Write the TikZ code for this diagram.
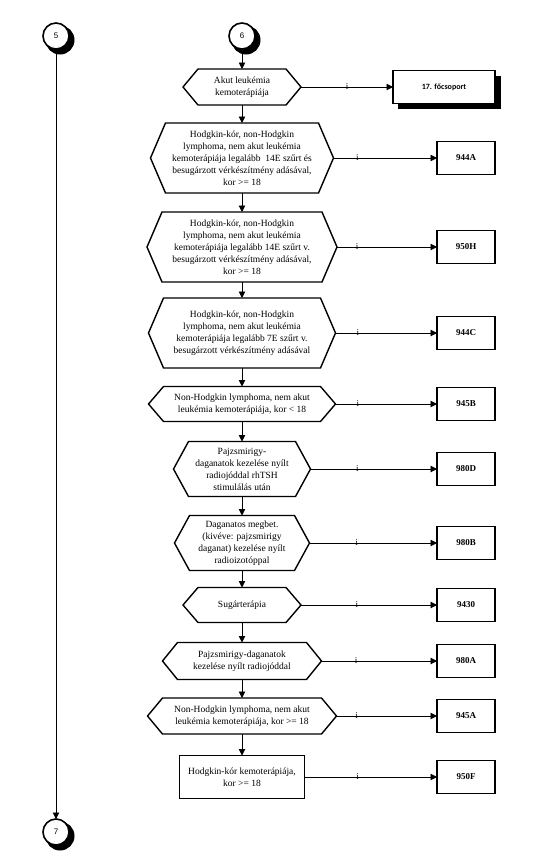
\documentclass[tikz,border=0pt]{standalone}
\usepackage{fontspec}
\setmainfont{Liberation Serif}
\setsansfont{Liberation Sans}
\newfontfamily\carlito{Carlito}
\usepackage{tikz}
\usetikzlibrary{arrows.meta}

\begin{document}
\begin{tikzpicture}[x=1pt, y=-1pt]
\tikzstyle{choice} = [rectangle, inner sep=0pt, outer sep=0pt, align=center, font=\fontsize{9.5}{12}\selectfont]
\tikzstyle{frame} = [line width=1.4pt, line join=miter]
\tikzstyle{plain} = [choice, draw, line width=1.4pt]
\tikzstyle{code} = [rectangle, draw, fill=white, line width=1.4pt, minimum width=58pt, minimum height=33pt, inner sep=0pt, outer sep=0pt, font=\fontsize{9}{11}\selectfont\bfseries]
\tikzstyle{connector} = [circle, draw, fill=white, line width=1.6pt, minimum size=26pt, inner sep=0pt, outer sep=0pt, font=\sffamily\fontsize{8}{10}\selectfont]
\tikzstyle{dropshadow} = [fill=black, draw=black, line width=1pt]
\tikzstyle{arrow} = [line width=0.9pt, -{Triangle[length=6.5pt, width=6.5pt]}]
\tikzstyle{igen} = [font=\fontsize{9}{9}\selectfont, inner sep=0pt]

\useasboundingbox (0,0) rectangle (534,868);

% shadows first, so they sit behind
\path[dropshadow] (60,40) circle [radius=14];
\path[dropshadow] (246,40) circle [radius=14];
\path[dropshadow] (60,836) circle [radius=14];
\path[dropshadow] (398,76) rectangle (500,108);

% off-page connectors
\node (c5) [connector] at (56,36) {5};
\node (c6) [connector] at (242,36) {6};
\node (c7) [connector] at (56,832) {7};

% decisions
\node (h0) [choice, minimum width=118pt, minimum height=36pt] at (242,87) {Akut leukémia\\kemoterápiája};
\node (h1) [choice, minimum width=183pt, minimum height=70pt] at (242,158) {Hodgkin-kór, non-Hodgkin\\lymphoma, nem akut leukémia\\kemoterápiája legalább\ \ 14E szűrt és\\besugárzott vérkészítmény adásával,\\kor >= 18};
\node (h2) [choice, minimum width=190pt, minimum height=70pt] at (242,247) {Hodgkin-kór, non-Hodgkin\\lymphoma, nem akut leukémia\\kemoterápiája legalább 14E szűrt v.\\besugárzott vérkészítmény adásával,\\kor >= 18};
\node (h3) [choice, minimum width=187pt, minimum height=70pt] at (242,333) {Hodgkin-kór, non-Hodgkin\\lymphoma, nem akut leukémia\\kemoterápiája legalább 7E szűrt v.\\besugárzott vérkészítmény adásával};
\node (h4) [choice, minimum width=187pt, minimum height=35pt] at (242,404) {Non-Hodgkin lymphoma, nem akut\\leukémia kemoterápiája, kor < 18};
\node (h5) [choice, minimum width=137pt, minimum height=55pt] at (242,469) {Pajzsmirigy-\\daganatok kezelése nyílt\\radiojóddal rhTSH\\stimulálás után};
\node (h6) [choice, minimum width=135pt, minimum height=55pt] at (242,543) {Daganatos megbet.\\(kivéve: pajzsmirigy\\daganat) kezelése nyílt\\radioizotóppal};
\node (h7) [choice, minimum width=118pt, minimum height=35pt] at (242,605) {Sugárterápia};
\node (h8) [choice, minimum width=159pt, minimum height=37pt] at (242,661) {Pajzsmirigy-daganatok\\kezelése nyílt radiojóddal};
\node (h9) [choice, minimum width=189pt, minimum height=36pt] at (242,716) {Non-Hodgkin lymphoma, nem akut\\leukémia kemoterápiája, kor >= 18};
\node (r10) [plain, minimum width=125pt, minimum height=43pt] at (242,777) {Hodgkin-kór kemoterápiája,\\kor >= 18};

\foreach \n in {h0,h1,h2,h3,h4,h5,h6,h7,h8,h9}
  \draw[frame] (\n.west) -- ([xshift=15pt]\n.north west) -- ([xshift=-15pt]\n.north east) -- (\n.east) -- ([xshift=-15pt]\n.south east) -- ([xshift=15pt]\n.south west) -- cycle;

% results
\node (g17) [code, minimum width=102pt, font=\carlito\fontsize{8}{10}\selectfont\bfseries] at (444,87) {17. főcsoport};
\node (b1) [code] at (466,158) {944A};
\node (b2) [code] at (466,247) {950H};
\node (b3) [code] at (466,333) {944C};
\node (b4) [code] at (466,404) {945B};
\node (b5) [code] at (466,469) {980D};
\node (b6) [code] at (466,543) {980B};
\node (b7) [code] at (466,605) {9430};
\node (b8) [code] at (466,661) {980A};
\node (b9) [code] at (466,716) {945A};
\node (b10) [code] at (466,777) {950F};

\draw [arrow] (c5) -- (c7);
\draw [arrow] (c6) -- (h0);
\draw [arrow] (h0) -- (h1);
\draw [arrow] (h1) -- (h2);
\draw [arrow] (h2) -- (h3);
\draw [arrow] (h3) -- (h4);
\draw [arrow] (h4) -- (h5);
\draw [arrow] (h5) -- (h6);
\draw [arrow] (h6) -- (h7);
\draw [arrow] (h7) -- (h8);
\draw [arrow] (h8) -- (h9);
\draw [arrow] (h9) -- (r10);

\draw [arrow] (h0) -- node[igen, pos=0.5] {i} (g17);
\draw [arrow] (h1) -- node[igen, pos=0.23] {i} (b1);
\draw [arrow] (h2) -- node[igen, pos=0.2] {i} (b2);
\draw [arrow] (h3) -- node[igen, pos=0.22] {i} (b3);
\draw [arrow] (h4) -- node[igen, pos=0.22] {i} (b4);
\draw [arrow] (h5) -- node[igen, pos=0.37] {i} (b5);
\draw [arrow] (h6) -- node[igen, pos=0.37] {i} (b6);
\draw [arrow] (h7) -- node[igen, pos=0.41] {i} (b7);
\draw [arrow] (h8) -- node[igen, pos=0.3] {i} (b8);
\draw [arrow] (h9) -- node[igen, pos=0.2] {i} (b9);
\draw [arrow] (r10) -- node[igen, pos=0.4] {i} (b10);
\end{tikzpicture}
\end{document}
